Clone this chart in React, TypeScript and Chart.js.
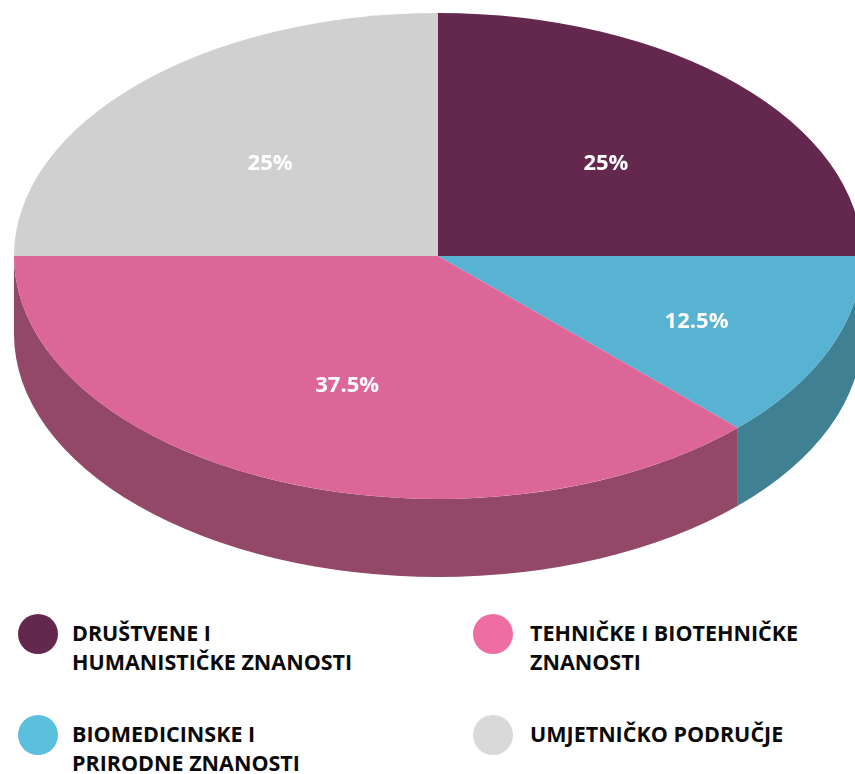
import React, { useEffect, useRef } from "react";
import { Chart, registerables } from "chart.js";

Chart.register(...registerables);

const categories = [
  "DRUŠTVENE I HUMANISTIČKE ZNANOSTI",
  "BIOMEDICINSKE I PRIRODNE ZNANOSTI",
  "TEHNIČKE I BIOTEHNIČKE ZNANOSTI",
  "UMJETNIČKO PODRUČJE",
];
const values = [25, 12.5, 37.5, 25];
const valueLabels = ["25%", "12.5%", "37.5%", "25%"];

const legendLines = [
  ["DRUŠTVENE I", "HUMANISTIČKE ZNANOSTI"],
  ["BIOMEDICINSKE I", "PRIRODNE ZNANOSTI"],
  ["TEHNIČKE I BIOTEHNIČKE", "ZNANOSTI"],
  ["UMJETNIČKO PODRUČJE"],
];

const topColors = ["#64284f", "#57b3d1", "#dd6699", "#d0d0d0"];
const sideColors = ["#4a1d3a", "#3f8193", "#934868", "#a0a0a0"];
const legendColors = ["#64284f", "#5bbfde", "#ee6ea4", "#d9d9d9"];

// ellipse layout of the 3D pie
const CX = 438;
const CY = 256;
const RX = 424;
const RY = 243;
const DEPTH = 78;

const pie3d = {
  id: "pie3d",
  beforeDatasetsDraw(chart: any) {
    const ctx = chart.ctx;
    const meta = chart.getDatasetMeta(0);
    const arcs = meta.data;
    // side walls (front half only)
    arcs.forEach((arc: any, i: number) => {
      const p = arc.getProps(["startAngle", "endAngle"], true);
      const ranges = [
        [0, Math.PI],
        [2 * Math.PI, 3 * Math.PI],
      ];
      ranges.forEach(([lo, hi]) => {
        const a = Math.max(p.startAngle, lo);
        const b = Math.min(p.endAngle, hi);
        if (b <= a) return;
        ctx.save();
        ctx.beginPath();
        ctx.ellipse(CX, CY, RX, RY, 0, a, b, false);
        ctx.ellipse(CX, CY + DEPTH, RX, RY, 0, b, a, true);
        ctx.closePath();
        ctx.fillStyle = sideColors[i];
        ctx.fill();
        ctx.restore();
      });
    });
    // map the library's circle onto the ellipse
    const first = arcs[0];
    const c = first.getProps(["x", "y", "outerRadius"], true);
    ctx.save();
    ctx.translate(CX, CY);
    ctx.scale(RX / c.outerRadius, RY / c.outerRadius);
    ctx.translate(-c.x, -c.y);
  },
  afterDatasetsDraw(chart: any) {
    const ctx = chart.ctx;
    ctx.restore();
    const meta = chart.getDatasetMeta(0);
    ctx.save();
    ctx.font = "bold 22px 'Open Sans'";
    ctx.fillStyle = "#ffffff";
    ctx.textAlign = "center";
    ctx.textBaseline = "middle";
    meta.data.forEach((arc: any, i: number) => {
      const p = arc.getProps(["startAngle", "endAngle"], true);
      const mid = (p.startAngle + p.endAngle) / 2;
      const f = values[i] < 20 ? 0.66 : 0.56;
      const x = CX + f * RX * Math.cos(mid);
      const y = CY + f * RY * Math.sin(mid) + 4;
      ctx.fillText(valueLabels[i], x, y);
    });
    ctx.restore();
  },
};

export default function App() {
  const ref = useRef<HTMLCanvasElement | null>(null);
  useEffect(() => {
    document.body.style.margin = "0";
    const canvas = ref.current;
    if (!canvas) return;
    const chart = new Chart(canvas, {
      type: "pie",
      data: {
        labels: categories,
        datasets: [
          {
            data: values,
            backgroundColor: topColors,
            borderWidth: 0,
          },
        ],
      },
      options: {
        responsive: false,
        animation: false,
        events: [],
        plugins: {
          legend: { display: false },
          tooltip: { enabled: false },
        },
      },
      plugins: [pie3d as any],
    });
    return () => chart.destroy();
  }, []);

  const legendPos = [
    { left: 18, top: 614 },
    { left: 18, top: 715 },
    { left: 473, top: 614 },
    { left: 473, top: 715 },
  ];

  return (
    <div
      style={{
        position: "relative",
        width: 855,
        height: 774,
        overflow: "hidden",
        background: "#ffffff",
        fontFamily: "'Open Sans', sans-serif",
      }}
    >
      <canvas
        ref={ref}
        width={855}
        height={600}
        style={{ display: "block", position: "absolute", left: 0, top: 0 }}
      />
      {categories.map((c, i) => (
        <div
          key={c}
          style={{
            position: "absolute",
            left: legendPos[i].left,
            top: legendPos[i].top,
            display: "flex",
            alignItems: "flex-start",
          }}
        >
          <div
            style={{
              width: 40,
              height: 40,
              borderRadius: "50%",
              background: legendColors[i],
              flex: "none",
            }}
          />
          <div
            style={{
              marginLeft: i < 2 ? 14 : 17,
              marginTop: 4,
              fontWeight: 700,
              fontSize: 21.5,
              lineHeight: "29px",
              color: "#0a0a0a",
              whiteSpace: "nowrap",
            }}
          >
            {legendLines[i].map((l) => (
              <div key={l}>{l}</div>
            ))}
          </div>
        </div>
      ))}
    </div>
  );
}
